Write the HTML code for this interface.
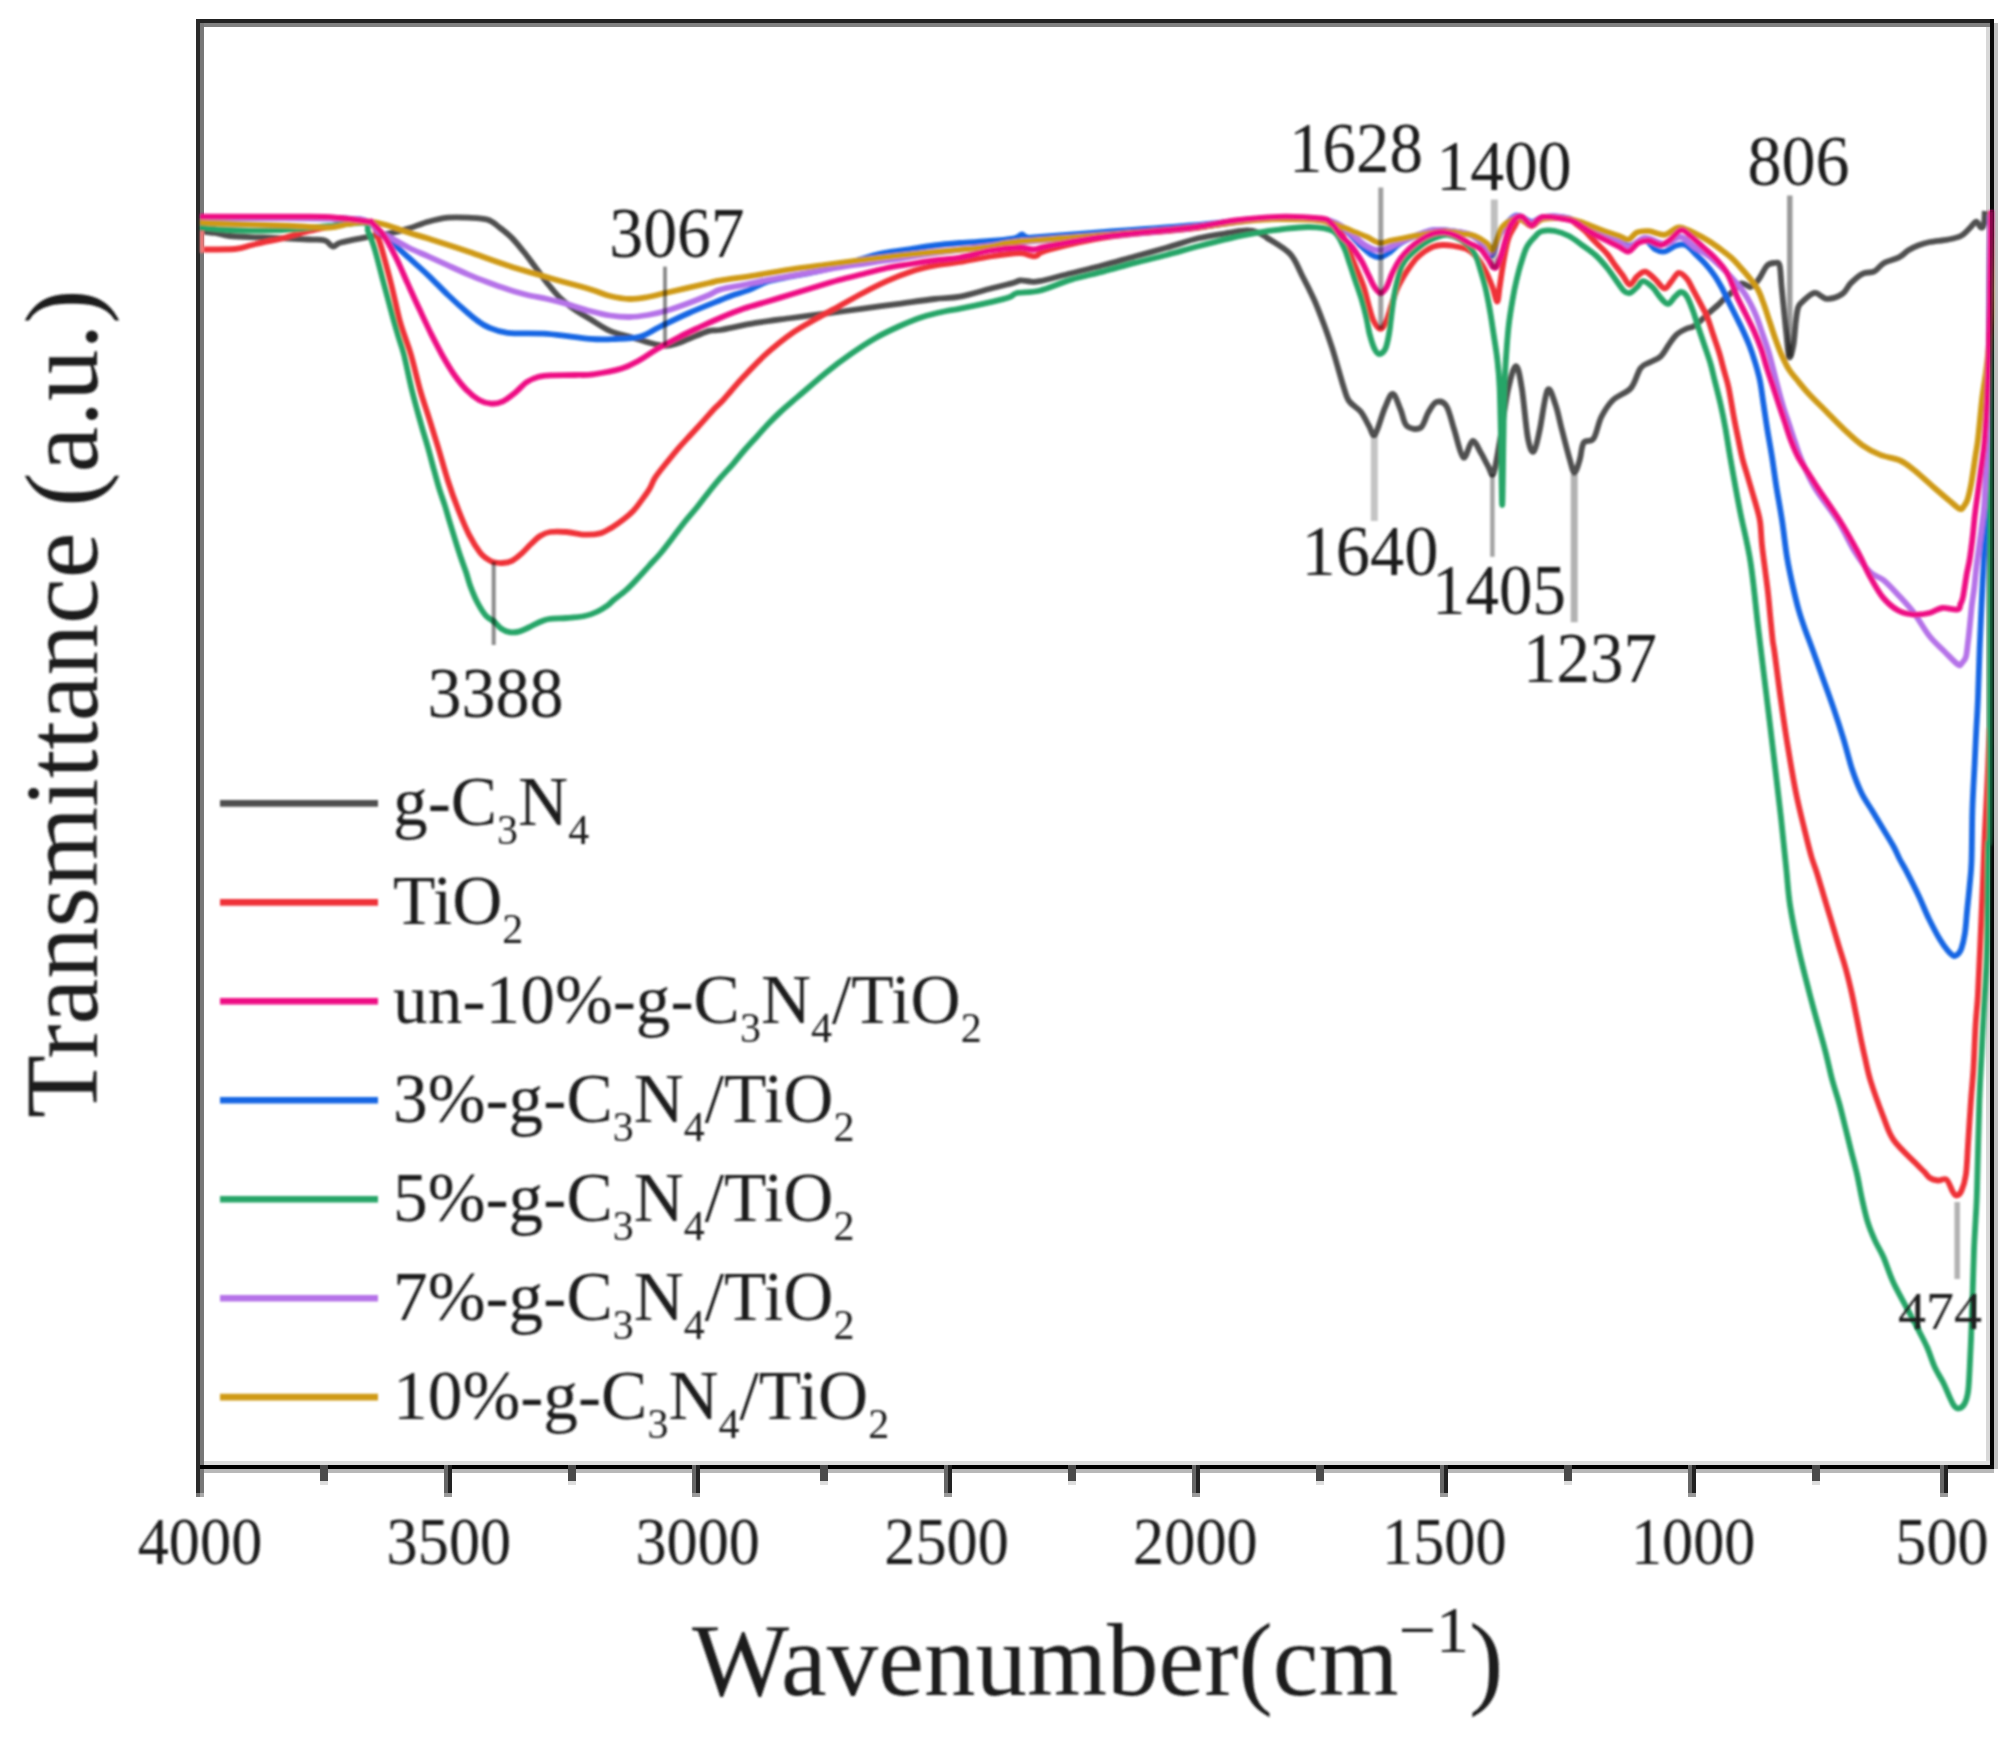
<!DOCTYPE html>
<html lang="en"><head><meta charset="utf-8"><title>FTIR spectra</title>
<style>html,body{margin:0;padding:0;background:#fff}body{width:2015px;height:1738px;overflow:hidden}svg{display:block}text{font-family:"Liberation Serif","Times New Roman",serif;fill:#1a1a1a}</style></head><body>
<svg width="2015" height="1738" viewBox="0 0 2015 1738">
<rect width="2015" height="1738" fill="#fff"/>
<defs><filter id="soft" x="0" y="0" width="2015" height="1738" filterUnits="userSpaceOnUse"><feGaussianBlur stdDeviation="1.1"/></filter></defs>
<g shape-rendering="crispEdges">
<rect x="196" y="19" width="1798" height="4" fill="#222"/>
<rect x="200" y="23" width="1790" height="4" fill="#808080"/>
<rect x="196" y="19" width="4" height="1474" fill="#2a2a2a"/>
<rect x="200" y="23" width="4" height="1470" fill="#777"/>
<rect x="196" y="1493" width="4" height="4" fill="#777"/>
<rect x="200" y="1493" width="4" height="4" fill="#aaa"/>
<rect x="204" y="1461" width="1786" height="4" fill="#dedede"/>
<rect x="200" y="1465" width="1794" height="4" fill="#000"/>
<rect x="204" y="1469" width="1790" height="4" fill="#b8b8b8"/>
<rect x="1986" y="27" width="4" height="1434" fill="#d8d8d8"/>
<rect x="1990" y="19" width="4" height="1450" fill="#080808"/>
<rect x="1994" y="23" width="4" height="1446" fill="#c0c0c0"/>
<rect x="320" y="1465" width="8" height="16" fill="#4a4a4a"/>
<rect x="320" y="1481" width="8" height="4" fill="#ddd"/>
<rect x="444" y="1465" width="4" height="28" fill="#666"/>
<rect x="448" y="1465" width="4" height="28" fill="#222"/>
<rect x="444" y="1493" width="8" height="4" fill="#999"/>
<rect x="568" y="1465" width="8" height="16" fill="#4a4a4a"/>
<rect x="568" y="1481" width="8" height="4" fill="#ddd"/>
<rect x="692" y="1465" width="4" height="28" fill="#666"/>
<rect x="696" y="1465" width="4" height="28" fill="#222"/>
<rect x="692" y="1493" width="8" height="4" fill="#999"/>
<rect x="820" y="1465" width="8" height="16" fill="#4a4a4a"/>
<rect x="820" y="1481" width="8" height="4" fill="#ddd"/>
<rect x="944" y="1465" width="4" height="28" fill="#666"/>
<rect x="948" y="1465" width="4" height="28" fill="#222"/>
<rect x="944" y="1493" width="8" height="4" fill="#999"/>
<rect x="1068" y="1465" width="8" height="16" fill="#4a4a4a"/>
<rect x="1068" y="1481" width="8" height="4" fill="#ddd"/>
<rect x="1192" y="1465" width="4" height="28" fill="#666"/>
<rect x="1196" y="1465" width="4" height="28" fill="#222"/>
<rect x="1192" y="1493" width="8" height="4" fill="#999"/>
<rect x="1316" y="1465" width="8" height="16" fill="#4a4a4a"/>
<rect x="1316" y="1481" width="8" height="4" fill="#ddd"/>
<rect x="1440" y="1465" width="4" height="28" fill="#666"/>
<rect x="1444" y="1465" width="4" height="28" fill="#222"/>
<rect x="1440" y="1493" width="8" height="4" fill="#999"/>
<rect x="1564" y="1465" width="8" height="16" fill="#4a4a4a"/>
<rect x="1564" y="1481" width="8" height="4" fill="#ddd"/>
<rect x="1688" y="1465" width="4" height="28" fill="#666"/>
<rect x="1692" y="1465" width="4" height="28" fill="#222"/>
<rect x="1688" y="1493" width="8" height="4" fill="#999"/>
<rect x="1812" y="1465" width="8" height="16" fill="#4a4a4a"/>
<rect x="1812" y="1481" width="8" height="4" fill="#ddd"/>
<rect x="1940" y="1465" width="4" height="28" fill="#666"/>
<rect x="1944" y="1465" width="4" height="28" fill="#222"/>
<rect x="1940" y="1493" width="8" height="4" fill="#999"/>
</g>
<g filter="url(#soft)">
<clipPath id="plot"><rect x="200" y="0" width="1794" height="1738"/></clipPath>
<g fill="none" stroke-width="5.8" stroke-linejoin="round" stroke-linecap="butt" clip-path="url(#plot)">
<path d="M198.0 231.0C200.8 231.3 209.7 232.2 215.0 233.0C220.3 233.8 223.0 235.3 230.0 236.0C237.0 236.7 250.4 237.0 257.0 237.3C263.6 237.6 260.7 237.2 269.4 237.6C278.1 238.0 299.7 239.0 309.0 239.5C318.3 240.0 321.0 239.3 325.0 240.5C329.0 241.7 330.2 246.2 332.9 246.5C335.5 246.8 335.6 244.0 340.9 242.5C346.2 241.0 356.8 239.1 364.7 237.6C372.6 236.1 381.2 235.1 388.5 233.6C395.8 232.1 401.8 230.6 408.4 228.6C415.0 226.6 421.6 223.5 428.2 221.7C434.8 219.9 441.4 218.4 448.0 217.7C454.6 217.0 461.3 217.4 467.9 217.7C474.5 218.0 482.5 218.0 487.8 219.7C493.1 221.3 495.7 224.6 499.7 227.6C503.7 230.6 507.6 233.6 511.6 237.6C515.6 241.6 519.5 246.6 523.5 251.5C527.5 256.4 531.4 262.0 535.4 267.3C539.4 272.6 543.3 278.2 547.3 283.2C551.3 288.1 555.2 293.0 559.2 297.0C563.2 301.0 567.5 304.3 571.0 307.0C574.5 309.7 576.8 311.0 580.0 313.0C583.2 315.0 585.0 316.0 590.0 319.0C595.0 322.0 603.3 327.9 609.9 330.9C616.5 333.9 623.1 334.8 629.7 336.8C636.3 338.8 643.7 341.3 649.6 342.8C655.5 344.3 660.8 345.7 665.4 345.8C670.0 345.9 673.1 344.7 677.0 343.5C680.9 342.3 683.7 340.9 689.0 338.8C694.3 336.7 703.8 332.4 709.0 330.9C714.2 329.4 712.2 331.3 720.0 330.0C727.8 328.7 743.8 324.9 755.7 322.9C767.6 320.9 779.6 319.6 791.5 318.0C803.4 316.4 815.3 315.0 827.2 313.4C839.1 311.8 851.1 310.2 863.0 308.6C874.9 307.0 886.8 305.4 898.7 303.8C910.6 302.2 924.2 300.2 934.4 299.0C944.6 297.8 950.4 298.5 960.0 296.7C969.6 294.9 983.0 290.6 991.8 288.3C1000.6 286.0 1008.3 284.3 1013.0 283.0C1017.7 281.7 1017.2 280.8 1020.0 280.5C1022.8 280.2 1026.8 281.4 1030.0 281.5C1033.2 281.6 1032.5 282.6 1039.4 281.2C1046.3 279.8 1060.6 275.8 1071.2 273.2C1081.8 270.6 1092.4 268.1 1103.0 265.3C1113.6 262.5 1124.1 259.4 1134.7 256.5C1145.3 253.6 1155.8 250.8 1166.4 247.8C1177.0 244.8 1187.6 240.8 1198.2 238.3C1208.8 235.8 1221.9 234.0 1230.0 232.7C1238.1 231.4 1242.3 230.5 1247.0 230.5C1251.7 230.5 1254.8 231.3 1258.0 232.5C1261.2 233.7 1261.2 233.9 1266.5 237.5C1271.8 241.1 1284.1 247.5 1290.0 253.8C1295.9 260.1 1298.0 267.8 1302.0 275.3C1306.0 282.8 1310.2 291.1 1313.8 299.0C1317.4 306.9 1320.4 315.1 1323.4 323.0C1326.4 330.9 1329.1 338.8 1331.7 346.7C1334.3 354.6 1336.8 363.9 1338.8 370.6C1340.8 377.3 1341.9 381.9 1343.6 387.0C1345.3 392.1 1346.1 396.8 1349.0 401.0C1351.9 405.2 1357.7 407.8 1361.0 412.0C1364.3 416.2 1366.7 422.2 1369.0 426.0C1371.3 429.8 1372.4 437.5 1375.0 434.5C1377.6 431.5 1381.8 414.8 1384.8 408.0C1387.8 401.2 1390.1 393.7 1392.8 394.0C1395.5 394.3 1398.4 404.7 1400.7 410.0C1403.0 415.3 1403.4 422.8 1406.7 425.8C1410.0 428.8 1417.0 430.1 1420.6 427.8C1424.2 425.5 1425.8 416.3 1428.5 412.0C1431.2 407.7 1433.5 403.0 1436.5 402.0C1439.5 401.0 1443.4 401.3 1446.4 406.0C1449.4 410.7 1451.5 421.4 1454.3 430.0C1457.1 438.6 1460.4 455.7 1463.4 457.5C1466.4 459.3 1469.5 441.8 1472.4 441.0C1475.3 440.2 1478.4 448.8 1481.0 453.0C1483.6 457.2 1485.9 462.6 1488.0 466.0C1490.1 469.4 1491.4 477.8 1493.4 473.5C1495.4 469.2 1497.6 453.9 1500.0 440.0C1502.4 426.1 1505.3 402.3 1508.0 390.0C1510.7 377.7 1513.6 366.5 1515.9 366.2C1518.2 365.9 1519.8 376.1 1521.8 388.0C1523.8 399.9 1525.8 427.1 1527.8 437.7C1529.8 448.3 1531.7 452.9 1533.7 451.6C1535.7 450.3 1537.4 440.3 1539.7 430.0C1542.0 419.7 1544.9 394.2 1547.6 390.0C1550.2 385.8 1553.2 398.4 1555.6 405.0C1558.0 411.6 1559.5 420.7 1561.9 429.8C1564.3 438.9 1567.7 452.5 1569.8 459.6C1571.9 466.7 1572.8 472.5 1574.5 472.5C1576.2 472.5 1578.3 464.6 1579.8 459.6C1581.3 454.6 1581.4 446.2 1583.7 442.7C1586.0 439.2 1590.5 443.0 1593.5 438.7C1596.5 434.4 1598.2 423.2 1601.4 416.8C1604.7 410.4 1608.1 404.8 1613.0 400.0C1617.9 395.2 1626.4 393.3 1631.0 388.0C1635.6 382.7 1637.3 372.5 1640.5 368.2C1643.7 363.9 1646.6 364.2 1650.0 362.2C1653.4 360.2 1657.6 359.3 1660.8 356.3C1664.0 353.3 1666.4 348.0 1669.0 344.4C1671.6 340.8 1673.5 337.4 1676.3 334.8C1679.1 332.2 1682.6 330.6 1685.8 329.0C1689.0 327.4 1691.5 327.9 1695.3 325.3C1699.1 322.7 1704.6 316.8 1708.4 313.4C1712.2 310.0 1715.4 307.4 1718.0 305.0C1720.6 302.6 1722.0 300.8 1724.0 299.0C1726.0 297.2 1727.2 296.6 1730.0 294.0C1732.8 291.4 1737.7 284.7 1741.0 283.5C1744.3 282.3 1747.7 286.9 1750.0 287.0C1752.3 287.1 1753.3 285.6 1755.0 284.0C1756.7 282.4 1758.0 280.5 1760.0 277.4C1762.0 274.3 1764.8 267.9 1767.2 265.5C1769.6 263.1 1772.2 263.1 1774.3 263.0C1776.3 262.9 1778.3 261.2 1779.5 265.0C1780.7 268.8 1780.8 278.3 1781.5 285.7C1782.2 293.1 1783.1 301.7 1783.9 309.6C1784.7 317.6 1785.4 325.5 1786.3 333.4C1787.2 341.3 1788.0 355.2 1789.2 357.2C1790.4 359.2 1792.3 351.2 1793.4 345.3C1794.5 339.4 1795.0 327.9 1795.8 321.5C1796.6 315.1 1797.0 310.6 1798.2 307.2C1799.4 303.8 1800.2 303.6 1803.0 301.2C1805.8 298.8 1810.8 293.3 1814.8 292.9C1818.8 292.5 1822.2 298.6 1826.8 298.8C1831.4 299.0 1838.2 296.6 1842.2 294.0C1846.2 291.4 1847.2 286.8 1850.6 283.4C1854.0 280.0 1858.5 275.8 1862.5 273.8C1866.5 271.8 1870.8 273.2 1874.4 271.4C1878.0 269.6 1879.9 265.3 1884.0 263.0C1888.1 260.7 1894.9 259.5 1899.0 257.4C1903.1 255.3 1905.2 252.3 1908.4 250.3C1911.6 248.3 1914.4 246.9 1918.0 245.5C1921.6 244.1 1924.8 243.0 1929.8 242.0C1934.8 241.0 1942.5 240.6 1947.7 239.6C1952.9 238.6 1957.0 238.0 1960.8 236.0C1964.6 234.0 1967.7 230.0 1970.3 227.6C1972.9 225.2 1974.5 221.7 1976.3 221.7C1978.1 221.7 1979.7 227.2 1981.0 227.6C1982.3 228.0 1983.4 226.8 1984.0 224.0C1984.6 221.2 1984.7 213.2 1984.8 211.0" stroke="#4f4f4f"/>
<path d="M198.0 249.5C204.2 249.4 226.3 249.7 235.0 249.0C243.7 248.3 245.0 246.7 250.0 245.5C255.0 244.3 260.0 243.1 265.0 242.0C270.0 240.9 275.5 240.1 280.0 239.0C284.5 237.9 287.2 236.8 292.0 235.5C296.8 234.2 302.8 232.5 309.0 231.0C315.2 229.5 322.4 228.0 329.0 226.6C335.6 225.2 342.2 223.3 348.8 222.7C355.4 222.0 364.5 222.1 368.7 222.7C372.9 223.2 372.5 223.8 374.0 226.0C375.5 228.2 376.3 232.4 377.5 236.0C378.7 239.6 379.1 239.7 381.4 247.6C383.6 255.5 388.0 271.5 391.0 283.4C394.0 295.3 397.0 310.1 399.3 319.0C401.6 327.9 403.1 331.0 405.0 337.0C406.9 343.0 408.4 345.9 411.0 354.8C413.6 363.7 417.3 380.1 420.3 390.6C423.3 401.1 426.1 408.6 429.0 418.0C431.9 427.4 434.8 436.5 438.0 447.0C441.2 457.5 444.6 470.4 448.0 481.0C451.4 491.6 455.2 501.9 458.7 510.8C462.2 519.7 465.4 527.6 469.0 534.6C472.6 541.6 477.0 548.5 480.0 552.5C483.0 556.5 484.9 557.2 487.0 558.8C489.1 560.4 490.3 561.3 492.9 562.0C495.5 562.7 499.2 563.2 502.4 563.0C505.6 562.8 508.8 562.4 512.0 560.8C515.2 559.2 518.3 556.4 521.5 553.6C524.7 550.8 527.8 547.0 531.0 544.0C534.2 541.0 537.3 537.8 540.5 535.8C543.7 533.8 545.6 532.6 550.0 532.0C554.4 531.4 560.9 531.6 566.7 532.0C572.5 532.4 579.1 534.4 584.6 534.6C590.1 534.8 595.4 534.6 600.0 533.4C604.6 532.2 608.0 529.8 612.0 527.4C616.0 525.0 620.4 521.8 624.0 519.0C627.6 516.2 630.7 513.5 633.4 510.7C636.1 507.9 637.4 506.0 640.0 502.4C642.6 498.8 646.8 493.5 649.3 489.3C651.8 485.1 652.3 481.9 655.3 477.4C658.3 472.8 663.2 467.0 667.2 462.0C671.2 457.0 675.0 452.2 679.0 447.6C683.0 443.0 687.0 438.9 691.0 434.5C695.0 430.1 699.0 425.8 703.0 421.4C707.0 417.0 711.4 411.9 714.8 408.3C718.2 404.7 720.5 402.9 723.2 400.0C725.9 397.1 727.6 394.9 731.0 391.0C734.4 387.1 737.7 382.9 743.8 376.5C749.9 370.1 759.6 359.8 767.6 352.7C775.6 345.6 783.5 339.2 791.5 333.6C799.5 328.0 807.4 323.9 815.3 319.3C823.2 314.7 831.0 310.6 839.0 306.2C847.0 301.8 855.0 297.2 863.0 293.0C871.0 288.8 878.8 284.8 886.7 281.2C894.6 277.6 902.7 274.3 910.6 271.7C918.5 269.1 926.2 267.3 934.4 265.7C942.6 264.1 950.7 263.5 960.0 262.0C969.3 260.5 980.5 258.0 990.3 256.5C1000.1 255.0 1012.4 253.2 1019.0 253.0C1025.6 252.8 1027.2 255.0 1030.0 255.5C1032.8 256.0 1033.0 256.9 1036.0 256.0C1039.0 255.1 1036.4 253.1 1048.0 250.0C1059.6 246.9 1081.4 241.0 1105.4 237.4C1129.4 233.8 1170.2 231.3 1191.8 228.7C1213.4 226.0 1220.6 223.3 1235.0 221.5C1249.4 219.7 1263.7 218.1 1278.0 217.8C1292.3 217.5 1310.5 217.0 1321.0 219.5C1331.5 222.0 1336.6 228.5 1341.0 233.0C1345.4 237.5 1344.6 240.6 1347.2 246.7C1349.8 252.8 1353.9 262.6 1356.7 269.3C1359.5 276.1 1361.8 281.2 1363.8 287.2C1365.8 293.1 1367.0 299.4 1368.6 305.0C1370.2 310.6 1371.4 316.5 1373.4 320.5C1375.4 324.5 1378.3 328.9 1380.5 328.9C1382.7 328.9 1384.7 324.5 1386.5 320.5C1388.3 316.5 1389.8 310.2 1391.5 305.0C1393.2 299.8 1394.9 293.9 1397.0 289.0C1399.1 284.1 1402.3 278.8 1404.3 275.3C1406.3 271.8 1407.0 270.8 1409.0 268.0C1411.0 265.2 1413.6 261.4 1416.2 258.6C1418.8 255.9 1421.8 253.5 1424.6 251.5C1427.4 249.5 1430.0 247.8 1433.0 246.7C1436.0 245.6 1439.0 245.1 1442.5 245.0C1446.0 244.9 1450.0 245.3 1454.0 246.0C1458.0 246.7 1462.7 247.3 1466.3 249.0C1469.9 250.7 1472.6 252.6 1475.8 256.2C1479.0 259.8 1482.5 265.3 1485.3 270.5C1488.1 275.7 1490.5 282.0 1492.5 287.2C1494.5 292.4 1496.0 301.5 1497.2 301.5C1498.4 301.5 1498.6 293.6 1499.6 287.2C1500.6 280.8 1501.8 271.3 1503.2 263.4C1504.6 255.5 1506.2 245.6 1508.0 239.6C1509.8 233.6 1511.9 231.0 1513.9 227.6C1515.9 224.2 1517.0 219.3 1520.0 219.0C1523.0 218.7 1527.8 226.2 1531.7 226.0C1535.6 225.8 1537.6 219.2 1543.6 218.0C1549.6 216.8 1561.9 217.9 1567.5 219.0C1573.1 220.1 1574.1 222.5 1577.0 224.5C1579.9 226.5 1582.7 228.8 1585.0 231.0C1587.3 233.2 1588.9 235.3 1591.0 237.5C1593.1 239.7 1595.0 241.6 1597.7 244.3C1600.4 247.0 1604.2 250.2 1607.2 253.8C1610.2 257.4 1612.9 262.2 1615.5 265.8C1618.1 269.4 1620.3 272.1 1622.7 275.3C1625.1 278.5 1627.4 284.6 1629.8 284.8C1632.2 285.0 1634.4 278.7 1637.0 276.5C1639.6 274.3 1642.3 271.3 1645.3 271.7C1648.3 272.1 1651.6 276.1 1654.8 278.9C1658.0 281.7 1661.6 288.0 1664.4 288.4C1667.2 288.8 1669.1 283.8 1671.5 281.2C1673.9 278.6 1676.1 273.3 1678.7 272.9C1681.3 272.5 1684.6 276.1 1687.0 278.9C1689.4 281.7 1690.8 285.6 1693.0 289.6C1695.2 293.6 1697.6 298.1 1700.0 302.7C1702.4 307.3 1705.0 311.6 1707.2 317.0C1709.4 322.4 1711.2 328.9 1713.2 334.8C1715.2 340.8 1717.4 346.7 1719.2 352.7C1721.0 358.7 1722.4 364.7 1724.0 370.6C1725.6 376.5 1727.1 380.3 1728.7 388.0C1730.3 395.7 1732.2 408.0 1733.8 416.8C1735.4 425.6 1737.1 433.6 1738.6 440.6C1740.0 447.6 1741.0 453.1 1742.5 459.0C1744.0 464.9 1745.8 470.3 1747.5 476.0C1749.2 481.7 1750.9 487.6 1752.5 493.0C1754.1 498.4 1755.7 503.6 1757.0 508.5C1758.3 513.4 1759.4 516.4 1760.2 522.5C1761.0 528.6 1761.2 537.5 1762.0 545.3C1762.8 553.0 1764.0 561.1 1765.0 569.0C1766.0 576.9 1767.1 584.9 1768.0 592.9C1768.9 600.9 1769.5 608.8 1770.3 616.7C1771.1 624.7 1772.0 634.7 1772.7 640.6C1773.4 646.5 1773.2 642.5 1774.5 652.0C1775.8 661.5 1778.3 682.1 1780.5 697.6C1782.7 713.1 1785.0 729.4 1787.6 745.3C1790.2 761.2 1793.2 779.1 1796.0 793.0C1798.8 806.9 1801.7 818.0 1804.3 828.7C1806.9 839.4 1809.3 849.5 1811.5 857.0C1813.7 864.5 1815.1 867.0 1817.2 873.8C1819.3 880.6 1821.9 889.6 1824.3 897.6C1826.7 905.6 1829.1 913.5 1831.5 921.5C1833.9 929.5 1836.2 937.4 1838.6 945.3C1841.0 953.2 1843.6 961.0 1845.8 969.0C1848.0 977.0 1849.9 985.0 1851.7 993.0C1853.5 1001.0 1854.9 1008.8 1856.5 1016.7C1858.1 1024.6 1859.8 1033.9 1861.2 1040.6C1862.6 1047.3 1863.2 1050.3 1864.8 1057.0C1866.4 1063.7 1867.5 1071.0 1870.6 1081.0C1873.7 1091.0 1879.6 1107.2 1883.4 1117.0C1887.2 1126.8 1888.3 1132.4 1893.6 1140.0C1898.9 1147.6 1909.9 1157.3 1915.0 1162.6C1920.1 1167.9 1921.5 1169.0 1924.0 1171.6C1926.5 1174.2 1927.7 1176.5 1930.0 1178.0C1932.3 1179.5 1935.3 1180.2 1938.0 1180.5C1940.7 1180.8 1944.0 1177.8 1946.4 1179.5C1948.8 1181.2 1950.8 1188.3 1952.4 1191.0C1954.0 1193.7 1954.7 1195.5 1956.2 1195.5C1957.7 1195.5 1959.8 1194.5 1961.4 1191.0C1963.0 1187.5 1964.8 1182.3 1965.9 1174.6C1967.0 1166.9 1967.2 1157.1 1968.0 1144.6C1968.8 1132.1 1970.1 1112.2 1971.0 1099.7C1971.9 1087.2 1972.6 1082.3 1973.4 1069.8C1974.2 1057.3 1974.8 1037.4 1975.6 1024.9C1976.3 1012.4 1977.2 1007.5 1977.9 995.0C1978.6 982.5 1979.2 969.2 1980.0 950.0C1980.8 930.8 1982.2 900.0 1983.0 880.0C1983.8 860.0 1984.2 846.7 1985.0 830.0C1985.8 813.3 1986.8 796.7 1987.5 780.0C1988.2 763.3 1989.1 743.3 1989.5 730.0C1989.9 716.7 1989.9 785.8 1990.0 700.0C1990.1 614.2 1990.0 295.8 1990.0 215.0" stroke="#ef3338"/>
<path d="M198.0 217.5C221.7 217.7 311.6 217.8 340.0 218.5C368.4 219.2 362.3 219.8 368.7 222.0C375.1 224.2 375.3 228.7 378.6 231.6C381.9 234.5 383.5 235.2 388.5 239.5C393.5 243.8 401.8 251.4 408.4 257.4C415.0 263.4 421.6 269.0 428.2 275.3C434.8 281.6 441.4 288.7 448.0 295.0C454.6 301.3 462.9 308.7 467.9 313.0C472.9 317.3 474.5 318.7 477.8 321.0C481.1 323.3 482.8 325.0 487.8 327.0C492.8 329.0 497.7 331.7 507.6 332.8C517.5 333.9 533.6 332.8 547.3 333.8C561.0 334.8 578.7 337.9 590.0 338.8C601.3 339.7 606.7 339.3 615.0 339.0C623.3 338.7 632.2 338.8 639.6 336.8C647.0 334.8 651.3 331.0 659.5 327.0C667.7 323.0 678.9 317.4 689.0 313.0C699.1 308.6 712.8 303.2 720.0 300.3C727.2 297.4 727.0 297.3 732.0 295.5C737.0 293.7 743.9 291.9 749.8 289.6C755.7 287.3 760.6 283.7 767.6 281.5C774.6 279.3 783.5 278.1 791.5 276.5C799.5 274.9 807.2 273.8 815.3 272.0C823.4 270.2 832.5 268.1 840.0 266.0C847.5 263.9 854.2 261.3 860.0 259.5C865.8 257.7 870.5 256.1 875.0 255.0C879.5 253.8 880.8 253.6 886.7 252.6C892.6 251.6 902.7 250.2 910.6 249.0C918.5 247.8 926.2 246.5 934.4 245.5C942.6 244.5 950.7 243.8 960.0 243.0C969.3 242.2 981.2 241.8 990.0 241.0C998.8 240.2 1008.3 239.2 1013.0 238.5C1017.7 237.8 1016.5 237.7 1018.0 237.0C1019.5 236.3 1020.7 234.5 1022.0 234.5C1023.3 234.5 1024.1 236.5 1026.0 237.0C1027.9 237.5 1020.3 238.3 1033.5 237.5C1046.7 236.7 1078.6 234.0 1105.0 232.0C1131.4 230.0 1167.9 227.6 1192.0 225.5C1216.1 223.4 1235.1 220.8 1249.4 219.5C1263.7 218.2 1266.1 218.0 1278.0 218.0C1289.9 218.0 1310.5 218.2 1321.0 219.5C1331.5 220.8 1334.5 221.8 1341.0 226.0C1347.5 230.2 1354.8 240.2 1360.0 245.0C1365.2 249.8 1368.5 253.0 1372.0 255.0C1375.5 257.0 1378.0 257.5 1381.0 257.0C1384.0 256.5 1386.7 254.3 1390.0 252.0C1393.3 249.7 1395.6 246.0 1400.7 243.0C1405.8 240.0 1414.6 236.2 1420.6 234.0C1426.6 231.8 1428.6 230.0 1436.5 230.0C1444.4 230.0 1460.1 231.5 1468.0 234.0C1475.9 236.5 1480.0 241.5 1484.0 245.0C1488.0 248.5 1489.3 256.8 1492.0 255.0C1494.7 253.2 1496.7 240.2 1500.0 234.0C1503.3 227.8 1508.7 221.0 1512.0 218.0C1515.3 215.0 1516.7 215.3 1520.0 216.0C1523.3 216.7 1527.8 221.8 1531.7 222.0C1535.6 222.2 1537.6 217.7 1543.6 217.0C1549.6 216.3 1560.3 216.2 1567.5 218.0C1574.7 219.8 1580.4 225.0 1587.0 228.0C1593.6 231.0 1602.3 234.3 1607.0 236.0C1611.7 237.7 1611.3 236.3 1615.0 238.0C1618.7 239.7 1624.0 245.7 1629.0 246.0C1634.0 246.3 1640.5 239.5 1644.8 240.0C1649.1 240.5 1651.5 247.1 1654.8 249.0C1658.1 250.9 1660.8 252.1 1664.4 251.5C1668.0 250.9 1672.7 246.6 1676.3 245.5C1679.9 244.4 1682.6 243.6 1685.8 245.0C1689.0 246.4 1692.1 250.7 1695.3 253.8C1698.5 256.9 1701.7 259.8 1704.9 263.4C1708.1 267.0 1711.6 271.3 1714.4 275.3C1717.2 279.3 1719.1 282.8 1721.5 287.2C1723.9 291.6 1726.3 297.2 1728.7 302.0C1731.1 306.8 1733.5 311.5 1735.8 316.0C1738.0 320.5 1740.0 324.1 1742.2 329.0C1744.5 333.9 1747.1 339.6 1749.3 345.3C1751.5 351.0 1753.5 357.1 1755.3 363.0C1757.1 368.9 1758.6 374.0 1760.0 381.0C1761.4 388.0 1762.4 396.9 1763.6 404.8C1764.8 412.8 1765.8 420.0 1767.2 428.7C1768.6 437.4 1770.5 447.5 1772.0 457.0C1773.5 466.5 1774.5 474.9 1776.2 485.7C1777.9 496.4 1780.4 509.6 1782.2 521.5C1784.0 533.4 1785.2 546.3 1787.0 557.2C1788.8 568.1 1791.0 578.1 1793.0 587.0C1795.0 595.9 1796.9 603.8 1798.9 610.8C1800.9 617.8 1802.5 622.2 1804.8 628.7C1807.1 635.2 1809.6 641.5 1812.7 650.0C1815.8 658.5 1819.9 669.9 1823.4 679.8C1827.0 689.7 1830.6 699.7 1834.0 709.6C1837.4 719.5 1840.6 729.4 1843.6 739.3C1846.6 749.2 1849.0 760.0 1852.0 769.0C1855.0 778.0 1858.1 786.0 1861.5 793.0C1864.9 800.0 1868.6 804.8 1872.2 810.8C1875.8 816.8 1879.4 822.8 1883.0 828.7C1886.6 834.7 1890.8 841.5 1893.6 846.5C1896.4 851.5 1897.4 854.9 1899.6 859.0C1901.8 863.1 1903.4 865.4 1906.5 871.4C1909.6 877.4 1914.7 887.4 1918.4 895.3C1922.2 903.2 1925.4 911.7 1929.0 919.0C1932.6 926.3 1936.6 933.9 1939.8 939.3C1943.0 944.7 1945.8 948.4 1948.2 951.2C1950.6 954.0 1952.4 955.5 1954.0 956.0C1955.6 956.5 1956.8 955.2 1958.0 954.0C1959.2 952.8 1960.1 952.3 1961.3 948.9C1962.5 945.5 1963.9 939.9 1964.9 933.4C1965.9 926.9 1966.4 917.5 1967.2 909.6C1968.0 901.7 1968.9 893.6 1969.6 885.7C1970.3 877.8 1971.0 874.6 1971.5 862.0C1972.0 849.4 1971.9 826.2 1972.4 810.0C1972.9 793.8 1973.9 778.3 1974.6 765.0C1975.2 751.7 1975.7 741.3 1976.3 730.0C1976.9 718.7 1977.5 710.4 1978.0 697.0C1978.5 683.6 1978.9 667.5 1979.6 649.6C1980.3 631.7 1981.5 607.2 1982.3 589.7C1983.1 572.2 1983.8 559.8 1984.6 544.8C1985.4 529.8 1986.2 524.1 1986.9 500.0C1987.6 475.9 1988.1 433.3 1988.5 400.0C1988.9 366.7 1989.2 330.8 1989.5 300.0C1989.8 269.2 1989.9 229.2 1990.0 215.0" stroke="#1766e3"/>
<path d="M198.0 227.0C202.0 227.4 213.4 228.9 222.0 229.5C230.6 230.1 238.4 230.6 249.6 230.6C260.8 230.6 275.8 230.4 289.0 229.6C302.2 228.8 316.4 227.1 329.0 226.0C341.6 224.9 358.2 222.2 364.7 223.0C371.2 223.8 366.4 226.9 368.0 231.0C369.6 235.1 371.7 238.9 374.3 247.6C376.9 256.3 380.6 271.5 383.8 283.4C387.0 295.3 390.9 310.1 393.3 319.0C395.8 327.9 396.7 331.0 398.5 337.0C400.3 343.0 401.8 345.9 404.0 354.8C406.2 363.7 409.2 379.1 412.0 390.6C414.8 402.1 418.4 414.6 421.0 424.0C423.6 433.4 425.6 439.3 427.8 447.0C430.0 454.7 432.1 463.2 434.0 470.0C435.9 476.8 437.2 482.0 439.0 488.0C440.8 494.0 443.2 500.2 445.0 506.0C446.8 511.8 448.2 517.2 450.0 523.0C451.8 528.8 453.7 535.2 455.5 541.0C457.3 546.8 459.2 552.8 461.0 558.0C462.8 563.2 464.4 567.3 466.0 572.0C467.6 576.7 468.4 580.9 470.3 586.0C472.2 591.1 474.8 597.6 477.4 602.5C480.0 607.4 483.0 612.4 485.8 615.6C488.6 618.8 491.4 619.3 494.0 621.5C496.6 623.7 498.6 626.9 501.2 628.7C503.8 630.5 506.6 631.7 509.6 632.2C512.6 632.7 515.8 632.4 519.0 631.6C522.2 630.8 525.4 629.0 528.6 627.5C531.8 626.0 534.8 624.1 538.2 622.7C541.6 621.3 544.1 619.8 548.9 619.0C553.6 618.2 560.8 618.5 566.7 618.0C572.7 617.5 579.6 617.0 584.6 616.0C589.6 615.0 592.5 613.9 596.5 612.0C600.5 610.1 605.5 606.8 608.4 604.8C611.2 602.8 610.8 602.4 613.6 600.0C616.5 597.6 621.5 594.1 625.5 590.6C629.5 587.1 633.4 582.9 637.4 578.7C641.4 574.5 645.3 570.0 649.3 565.6C653.3 561.2 657.2 557.3 661.2 552.5C665.2 547.7 669.2 542.2 673.2 537.0C677.2 531.8 681.0 526.5 685.0 521.5C689.0 516.5 693.0 512.2 697.0 507.2C701.0 502.2 705.0 496.7 709.0 491.7C713.0 486.7 716.8 482.0 720.8 477.4C724.8 472.8 728.7 468.9 732.7 464.3C736.7 459.7 740.6 454.6 744.6 450.0C748.6 445.4 752.5 441.4 756.5 437.0C760.5 432.6 764.4 428.0 768.4 423.8C772.4 419.6 776.3 415.7 780.3 412.0C784.3 408.3 788.4 404.8 792.3 401.5C796.1 398.2 797.6 397.0 803.4 392.0C809.2 387.0 819.3 378.1 827.2 371.7C835.1 365.3 843.1 359.4 851.0 353.9C858.9 348.3 866.8 343.0 874.8 338.4C882.8 333.8 890.8 330.1 898.7 326.5C906.7 322.9 914.6 319.6 922.5 317.0C930.4 314.4 940.0 312.4 946.3 311.0C952.5 309.6 952.4 310.1 960.0 308.6C967.6 307.1 983.5 303.7 991.8 301.8C1000.1 299.9 1005.8 298.5 1010.0 297.0C1014.2 295.5 1012.1 294.1 1017.0 293.0C1021.9 291.9 1030.4 292.9 1039.4 290.7C1048.4 288.5 1060.6 282.8 1071.2 279.6C1081.8 276.4 1092.4 274.4 1103.0 271.6C1113.6 268.8 1124.1 265.7 1134.7 262.9C1145.3 260.1 1155.8 257.8 1166.4 255.0C1177.0 252.2 1187.6 249.0 1198.2 246.2C1208.8 243.4 1219.4 240.7 1230.0 238.3C1240.6 235.9 1253.4 233.5 1261.7 232.0C1270.0 230.5 1272.1 230.3 1280.0 229.5C1287.9 228.7 1300.2 226.8 1309.0 227.0C1317.8 227.2 1327.2 227.7 1333.0 231.0C1338.8 234.3 1340.8 241.3 1343.6 246.7C1346.4 252.1 1347.6 257.6 1349.6 263.4C1351.6 269.1 1353.5 275.3 1355.5 281.2C1357.5 287.1 1359.7 293.0 1361.5 299.0C1363.3 305.0 1364.8 311.0 1366.2 317.0C1367.6 323.0 1368.4 329.5 1369.8 334.8C1371.2 340.1 1373.0 345.8 1374.6 349.0C1376.2 352.2 1377.5 354.0 1379.3 354.0C1381.1 354.0 1383.7 352.2 1385.3 349.0C1386.9 345.8 1387.9 340.1 1388.9 334.8C1389.9 329.5 1390.4 323.0 1391.2 317.0C1392.0 311.0 1392.6 305.0 1393.6 299.0C1394.6 293.0 1395.8 286.7 1397.2 281.2C1398.6 275.7 1400.0 270.0 1402.0 265.8C1404.0 261.6 1404.6 260.3 1409.0 256.2C1413.4 252.1 1421.9 244.5 1428.5 241.0C1435.1 237.5 1442.2 234.6 1448.4 235.0C1454.7 235.4 1461.4 240.0 1466.0 243.5C1470.6 247.0 1473.4 251.7 1475.8 256.2C1478.2 260.7 1479.0 265.3 1480.6 270.5C1482.2 275.7 1483.7 280.4 1485.3 287.2C1486.9 293.9 1488.6 303.1 1490.0 311.0C1491.4 318.9 1492.5 326.9 1493.7 334.8C1494.9 342.8 1496.2 350.0 1497.2 358.7C1498.2 367.4 1499.0 373.4 1499.6 387.0C1500.2 400.6 1500.6 420.3 1501.0 440.0C1501.4 459.7 1501.8 505.0 1502.2 505.0C1502.6 505.0 1503.0 459.7 1503.4 440.0C1503.8 420.3 1503.8 402.6 1504.4 387.0C1505.0 371.4 1506.0 357.4 1506.8 346.7C1507.6 336.0 1508.0 330.9 1509.0 323.0C1510.0 315.1 1511.5 306.0 1512.7 299.0C1513.9 292.0 1514.9 287.1 1516.3 281.2C1517.7 275.3 1519.2 269.1 1521.0 263.4C1522.8 257.6 1524.5 251.3 1527.0 246.7C1529.5 242.1 1533.2 238.6 1535.7 236.0C1538.2 233.4 1538.5 232.0 1541.7 231.2C1544.9 230.4 1550.5 230.2 1555.0 231.0C1559.5 231.8 1564.7 233.8 1569.0 236.0C1573.3 238.2 1576.6 241.1 1581.0 244.3C1585.4 247.5 1590.9 251.1 1595.3 255.0C1599.7 258.9 1603.6 263.6 1607.2 268.0C1610.8 272.4 1613.9 277.4 1616.7 281.2C1619.5 285.0 1621.7 288.8 1623.9 290.8C1626.1 292.8 1627.6 293.6 1629.8 293.0C1632.0 292.4 1634.8 289.2 1637.0 287.2C1639.2 285.2 1640.4 281.2 1643.0 281.2C1645.6 281.2 1649.5 284.4 1652.5 287.2C1655.5 290.0 1658.2 295.2 1660.8 298.0C1663.4 300.8 1665.6 304.1 1668.0 303.9C1670.4 303.7 1672.8 298.7 1675.0 296.7C1677.2 294.7 1679.0 292.0 1681.0 292.0C1683.0 292.0 1685.0 293.5 1687.0 296.7C1689.0 299.9 1691.0 305.6 1693.0 311.0C1695.0 316.4 1696.9 323.1 1698.9 329.0C1700.9 334.9 1702.9 340.8 1704.9 346.7C1706.9 352.6 1709.2 358.9 1710.8 364.6C1712.4 370.3 1713.1 374.3 1714.8 381.0C1716.5 387.7 1718.9 396.9 1720.7 404.8C1722.5 412.8 1723.9 419.8 1725.5 428.7C1727.1 437.6 1727.9 444.3 1730.3 458.0C1732.7 471.7 1736.6 493.7 1740.0 511.0C1743.4 528.3 1747.5 542.8 1750.5 562.0C1753.5 581.2 1755.5 604.7 1758.0 626.0C1760.5 647.3 1763.2 668.7 1765.8 690.0C1768.4 711.3 1771.0 732.7 1773.5 754.0C1776.0 775.3 1778.9 798.6 1781.0 817.8C1783.1 837.0 1784.8 854.5 1786.3 869.0C1787.8 883.5 1787.9 891.3 1790.0 905.0C1792.1 918.7 1795.4 934.8 1799.0 951.0C1802.6 967.2 1807.5 985.5 1811.8 1002.0C1816.1 1018.5 1821.6 1037.0 1825.0 1050.0C1828.4 1063.0 1829.8 1070.9 1832.2 1079.8C1834.6 1088.7 1837.1 1095.7 1839.3 1103.6C1841.5 1111.5 1843.3 1119.5 1845.3 1127.4C1847.3 1135.3 1849.2 1143.3 1851.2 1151.2C1853.2 1159.1 1855.4 1167.0 1857.2 1175.0C1859.0 1183.0 1860.2 1191.0 1862.0 1198.9C1863.8 1206.9 1865.7 1215.8 1867.9 1222.7C1870.1 1229.7 1872.4 1234.9 1875.0 1240.6C1877.6 1246.3 1880.3 1249.9 1883.4 1257.0C1886.5 1264.1 1889.3 1273.8 1893.6 1283.0C1897.9 1292.2 1904.9 1304.3 1909.0 1312.0C1913.1 1319.7 1915.0 1323.4 1918.0 1329.2C1921.0 1335.0 1924.2 1340.8 1927.0 1347.0C1929.8 1353.2 1931.8 1360.6 1934.5 1366.6C1937.2 1372.6 1940.9 1378.0 1943.4 1383.0C1945.9 1388.0 1947.7 1392.8 1949.4 1396.6C1951.2 1400.4 1952.4 1403.6 1953.9 1405.6C1955.4 1407.6 1956.7 1408.8 1958.4 1408.5C1960.2 1408.2 1962.8 1406.8 1964.4 1404.0C1966.0 1401.2 1967.1 1397.7 1968.0 1392.0C1968.9 1386.3 1969.1 1378.3 1969.6 1369.6C1970.1 1360.9 1970.5 1352.2 1971.0 1339.7C1971.5 1327.2 1972.1 1309.8 1972.6 1294.8C1973.1 1279.8 1973.5 1262.4 1974.0 1249.9C1974.5 1237.4 1975.1 1230.0 1975.6 1220.0C1976.1 1210.0 1976.4 1210.0 1977.0 1190.0C1977.6 1170.0 1978.6 1122.2 1979.4 1099.7C1980.2 1077.2 1980.8 1069.8 1981.6 1054.8C1982.3 1039.8 1983.0 1027.4 1983.9 1009.9C1984.8 992.4 1986.2 976.6 1986.9 950.0C1987.6 923.4 1987.5 878.3 1988.0 850.0C1988.5 821.7 1989.6 885.8 1990.0 780.0C1990.4 674.2 1990.2 309.2 1990.3 215.0" stroke="#25a567"/>
<path d="M198.0 217.5C221.7 217.7 311.6 217.8 340.0 218.5C368.4 219.2 362.3 219.8 368.7 222.0C375.1 224.2 375.3 229.2 378.6 231.6C381.9 234.0 383.5 233.9 388.5 236.6C393.5 239.2 401.8 244.2 408.4 247.5C415.0 250.8 421.6 253.4 428.2 256.4C434.8 259.4 441.4 262.4 448.0 265.4C454.6 268.4 461.3 271.5 467.9 274.3C474.5 277.1 481.2 279.7 487.8 282.2C494.4 284.7 501.0 287.1 507.6 289.2C514.2 291.3 520.9 293.4 527.5 295.0C534.1 296.6 540.7 297.5 547.3 299.0C553.9 300.5 559.9 302.0 567.0 304.0C574.1 306.0 582.8 309.1 590.0 311.0C597.2 312.9 603.4 314.5 610.0 315.5C616.6 316.5 623.4 317.1 629.7 317.0C636.0 316.9 642.0 316.0 648.0 315.0C654.0 314.0 658.6 313.0 665.4 311.0C672.2 309.0 681.7 305.7 689.0 303.0C696.3 300.3 703.8 297.2 709.0 295.0C714.2 292.8 714.2 291.3 720.0 289.6C725.8 287.9 735.9 286.4 743.8 284.8C751.7 283.2 759.6 281.5 767.6 280.0C775.6 278.5 783.5 277.3 791.5 275.9C799.5 274.5 805.4 273.4 815.3 271.7C825.2 270.0 838.5 267.4 851.0 265.5C863.5 263.6 876.4 262.0 890.0 260.0C903.6 258.0 911.2 256.4 932.7 253.5C954.2 250.6 990.2 245.4 1019.0 242.5C1047.8 239.6 1076.6 238.4 1105.4 236.0C1134.2 233.6 1167.8 230.6 1191.8 228.0C1215.8 225.4 1235.0 222.1 1249.4 220.5C1263.8 218.9 1266.1 218.6 1278.0 218.5C1289.9 218.4 1310.5 218.8 1321.0 220.0C1331.5 221.2 1333.7 221.8 1341.0 226.0C1348.3 230.2 1358.3 241.0 1365.0 245.0C1371.7 249.0 1375.0 250.5 1381.0 250.0C1387.0 249.5 1394.1 244.7 1400.7 242.0C1407.3 239.3 1414.6 236.0 1420.6 234.0C1426.6 232.0 1428.6 230.0 1436.5 230.0C1444.4 230.0 1460.1 231.7 1468.0 234.0C1475.9 236.3 1480.0 240.8 1484.0 244.0C1488.0 247.2 1489.3 254.7 1492.0 253.0C1494.7 251.3 1496.7 239.7 1500.0 234.0C1503.3 228.3 1508.7 221.8 1512.0 219.0C1515.3 216.2 1516.7 216.3 1520.0 217.0C1523.3 217.7 1527.8 223.0 1531.7 223.0C1535.6 223.0 1537.6 217.8 1543.6 217.0C1549.6 216.2 1560.3 216.2 1567.5 218.0C1574.7 219.8 1580.4 224.8 1587.0 228.0C1593.6 231.2 1602.3 235.2 1607.0 237.0C1611.7 238.8 1611.3 237.3 1615.0 239.0C1618.7 240.7 1624.0 247.2 1629.0 247.0C1634.0 246.8 1638.9 238.5 1644.8 238.0C1650.7 237.5 1658.6 244.2 1664.6 244.0C1670.5 243.8 1675.5 236.5 1680.5 237.0C1685.5 237.5 1689.5 243.7 1694.4 247.0C1699.3 250.3 1703.8 251.9 1710.0 257.0C1716.2 262.1 1725.9 271.6 1731.5 277.4C1737.1 283.2 1740.2 287.3 1743.4 291.7C1746.6 296.1 1748.3 299.4 1750.5 303.6C1752.7 307.8 1754.5 311.7 1756.5 316.7C1758.5 321.7 1760.4 327.6 1762.4 333.4C1764.4 339.1 1766.6 345.3 1768.4 351.2C1770.2 357.1 1771.6 362.9 1773.2 369.0C1774.8 375.1 1776.4 381.8 1778.0 388.0C1779.6 394.2 1781.2 400.0 1783.0 406.0C1784.8 412.0 1787.0 418.0 1789.0 424.0C1791.0 430.0 1793.0 436.2 1795.0 442.0C1797.0 447.8 1797.7 451.3 1801.0 459.0C1804.3 466.7 1808.8 477.7 1815.0 488.0C1821.2 498.3 1831.3 510.3 1838.0 521.0C1844.7 531.7 1849.7 543.5 1855.0 552.0C1860.3 560.5 1865.3 567.3 1870.0 572.0C1874.7 576.7 1878.6 576.1 1883.4 580.0C1888.2 583.9 1893.6 590.0 1898.7 595.5C1903.8 601.0 1908.9 606.2 1914.0 613.0C1919.1 619.8 1924.3 629.5 1929.4 636.0C1934.5 642.5 1939.9 646.9 1944.7 651.7C1949.5 656.5 1955.1 662.7 1958.0 664.6C1960.9 666.5 1960.7 664.3 1962.0 663.0C1963.3 661.7 1964.9 660.5 1965.9 657.0C1966.9 653.5 1967.2 648.2 1968.0 642.0C1968.8 635.8 1969.8 625.8 1970.4 619.6C1971.1 613.4 1971.3 609.7 1971.9 604.7C1972.5 599.7 1973.2 596.0 1974.0 589.7C1974.8 583.4 1975.5 574.5 1976.4 567.0C1977.3 559.5 1978.4 552.3 1979.4 544.8C1980.4 537.3 1981.5 529.5 1982.4 522.0C1983.3 514.5 1983.8 513.7 1984.6 500.0C1985.4 486.3 1986.3 470.0 1987.0 440.0C1987.7 410.0 1988.5 357.5 1989.0 320.0C1989.5 282.5 1989.8 232.5 1990.0 215.0" stroke="#b572e8"/>
<path d="M198.0 222.0C201.7 222.2 204.8 222.9 220.0 223.5C235.2 224.1 270.8 225.0 289.0 225.7C307.2 226.4 319.2 227.9 329.0 227.6C338.8 227.3 341.4 225.0 348.0 224.0C354.6 223.0 361.9 221.4 368.7 221.7C375.4 222.0 381.9 223.9 388.5 225.7C395.1 227.5 401.8 230.4 408.4 232.6C415.0 234.8 418.3 235.4 428.2 238.6C438.1 241.8 454.7 247.0 467.9 251.5C481.1 256.0 494.4 261.1 507.6 265.4C520.8 269.7 533.6 273.3 547.3 277.3C561.0 281.3 579.5 286.1 590.0 289.2C600.5 292.3 603.4 294.4 610.0 296.0C616.6 297.6 623.4 298.8 629.7 299.0C636.0 299.2 642.0 298.0 648.0 297.0C654.0 296.0 655.2 295.3 665.4 293.0C675.6 290.7 699.9 285.1 709.0 283.0C718.1 280.9 712.2 281.9 720.0 280.6C727.8 279.3 743.8 277.2 755.7 275.3C767.6 273.4 779.6 271.1 791.5 269.3C803.4 267.5 815.3 266.1 827.2 264.5C839.1 262.9 851.1 261.3 863.0 259.8C874.9 258.3 886.8 256.9 898.7 255.6C910.6 254.3 924.2 253.0 934.4 252.0C944.6 251.0 950.7 250.6 960.0 249.7C969.3 248.8 980.2 247.9 990.0 246.5C999.8 245.1 999.8 243.4 1019.0 241.5C1038.2 239.6 1076.6 237.3 1105.4 235.0C1134.2 232.7 1167.8 230.1 1191.8 227.7C1215.8 225.3 1235.0 221.9 1249.4 220.5C1263.8 219.1 1266.1 219.0 1278.0 219.0C1289.9 219.0 1310.1 219.1 1321.0 220.5C1331.9 221.9 1337.8 225.6 1343.6 227.6C1349.3 229.6 1351.5 230.8 1355.5 232.4C1359.5 234.0 1363.4 235.4 1367.4 237.2C1371.4 239.0 1375.3 242.4 1379.3 243.0C1383.3 243.6 1386.2 241.7 1391.2 240.7C1396.2 239.7 1403.0 238.4 1409.0 237.2C1415.0 236.0 1421.0 234.5 1427.0 233.6C1433.0 232.7 1439.0 231.5 1444.9 231.5C1450.9 231.5 1457.8 232.8 1462.7 233.6C1467.7 234.3 1470.6 234.4 1474.6 236.0C1478.6 237.6 1483.5 240.6 1486.5 243.0C1489.5 245.4 1490.7 250.9 1492.5 250.3C1494.3 249.7 1495.6 243.4 1497.2 239.6C1498.8 235.8 1499.5 230.9 1502.0 227.6C1504.5 224.3 1509.0 221.4 1512.0 220.0C1515.0 218.6 1516.7 218.2 1520.0 219.0C1523.3 219.8 1527.8 225.0 1531.7 225.0C1535.6 225.0 1537.6 220.0 1543.6 219.0C1549.6 218.0 1560.9 218.3 1567.5 219.0C1574.1 219.7 1577.8 221.1 1583.4 222.9C1589.0 224.7 1595.3 227.8 1601.2 230.0C1607.1 232.2 1614.4 234.4 1619.0 236.0C1623.6 237.6 1625.6 240.2 1628.6 239.6C1631.6 239.0 1633.6 233.8 1637.0 232.4C1640.4 231.0 1644.3 230.8 1648.9 231.2C1653.5 231.6 1660.1 235.2 1664.4 234.8C1668.8 234.4 1672.2 230.0 1675.0 228.8C1677.8 227.6 1678.0 227.0 1681.0 227.6C1684.0 228.2 1688.4 230.2 1693.0 232.4C1697.6 234.6 1703.9 237.9 1708.4 240.7C1713.0 243.5 1716.3 246.0 1720.3 249.0C1724.3 252.0 1729.0 255.6 1732.3 258.6C1735.6 261.6 1737.4 264.1 1740.0 267.0C1742.6 269.9 1745.0 272.5 1748.0 276.2C1751.0 279.9 1755.1 284.7 1757.7 289.3C1760.3 293.9 1761.6 298.2 1763.6 303.6C1765.6 309.0 1767.6 315.6 1769.6 321.5C1771.6 327.4 1773.5 333.8 1775.5 339.3C1777.5 344.9 1779.3 349.9 1781.5 354.8C1783.7 359.8 1786.0 364.8 1788.6 369.0C1791.2 373.2 1793.6 375.6 1797.0 379.8C1800.4 384.0 1804.0 388.6 1809.0 394.0C1814.0 399.4 1820.9 406.0 1826.8 412.0C1832.7 418.0 1838.6 424.2 1844.6 429.8C1850.5 435.4 1856.5 441.1 1862.5 445.3C1868.5 449.5 1874.0 452.4 1880.3 454.9C1886.5 457.4 1894.4 458.0 1900.0 460.5C1905.6 463.0 1908.2 465.4 1914.0 470.0C1919.8 474.6 1928.5 482.8 1934.5 488.0C1940.5 493.2 1945.5 497.5 1949.8 501.0C1954.0 504.5 1957.6 508.2 1960.0 509.0C1962.4 509.8 1962.8 507.5 1964.0 506.0C1965.2 504.5 1966.2 503.5 1967.4 500.0C1968.6 496.5 1970.0 490.0 1971.0 485.0C1972.0 480.0 1972.6 475.0 1973.4 470.0C1974.2 465.0 1974.8 460.0 1975.6 455.0C1976.3 450.0 1976.8 449.2 1977.9 440.0C1979.0 430.8 1980.7 411.3 1982.0 400.0C1983.3 388.7 1984.9 380.3 1986.0 372.0C1987.1 363.7 1987.8 357.0 1988.5 350.0C1989.2 343.0 1989.6 338.3 1990.0 330.0C1990.4 321.7 1990.8 319.2 1991.0 300.0C1991.2 280.8 1991.2 229.2 1991.2 215.0" stroke="#cf9a12"/>
<path d="M200.0 216.7C218.2 216.7 285.7 216.5 309.0 216.7C332.3 216.9 330.1 217.2 340.0 218.0C349.9 218.8 363.4 220.9 368.7 221.7C374.0 222.5 369.5 220.3 372.0 222.6C374.5 224.9 379.9 230.0 383.8 235.7C387.8 241.4 391.7 249.1 395.7 257.0C399.7 264.9 403.6 274.6 407.6 283.4C411.6 292.2 415.6 301.1 419.6 309.6C423.6 318.1 427.5 326.7 431.5 334.6C435.5 342.5 439.4 350.2 443.4 357.2C447.4 364.1 451.3 370.7 455.3 376.3C459.3 381.9 463.2 386.7 467.2 390.6C471.1 394.6 475.0 397.8 479.0 400.0C483.0 402.2 487.0 403.5 491.0 403.7C495.0 403.9 499.0 403.1 503.0 401.3C507.0 399.5 510.8 396.2 514.8 393.0C518.8 389.8 522.7 384.9 526.7 382.2C530.7 379.5 534.7 377.9 538.7 376.8C542.7 375.7 544.6 375.6 550.6 375.3C556.6 375.0 567.9 375.2 575.0 375.0C582.1 374.8 585.2 375.4 593.0 374.3C600.8 373.2 614.1 370.8 621.8 368.5C629.5 366.2 633.2 363.7 639.0 360.5C644.8 357.3 649.6 353.4 656.3 349.5C663.0 345.6 672.0 340.8 679.3 337.0C686.6 333.2 693.2 330.2 700.0 327.0C706.8 323.8 712.7 321.1 720.0 318.0C727.3 314.9 735.9 311.4 743.8 308.6C751.7 305.9 759.6 303.9 767.6 301.5C775.6 299.1 783.5 296.7 791.5 294.3C799.5 291.9 807.4 289.4 815.3 287.0C823.2 284.6 831.0 282.2 839.0 280.0C847.0 277.8 855.0 276.0 863.0 274.0C871.0 272.0 878.8 269.7 886.7 268.0C894.6 266.3 902.7 265.3 910.6 264.0C918.5 262.7 926.2 261.5 934.4 260.4C942.6 259.3 950.7 259.1 960.0 257.5C969.3 255.8 980.2 252.2 990.0 250.5C999.8 248.8 1011.8 247.7 1019.0 247.5C1026.2 247.3 1028.7 249.8 1033.5 249.5C1038.3 249.2 1036.0 248.2 1048.0 246.0C1060.0 243.8 1081.4 239.5 1105.4 236.4C1129.4 233.3 1170.2 230.3 1191.8 227.7C1213.4 225.0 1220.6 222.3 1235.0 220.5C1249.4 218.7 1263.7 217.1 1278.0 216.8C1292.3 216.5 1312.3 217.6 1321.0 218.5C1329.7 219.4 1327.6 220.5 1330.0 222.0C1332.4 223.5 1333.4 225.3 1335.3 227.6C1337.2 229.9 1338.4 232.8 1341.2 236.0C1344.0 239.2 1348.6 242.5 1352.0 246.7C1355.4 250.9 1358.7 256.2 1361.5 261.0C1364.3 265.8 1366.4 270.9 1368.6 275.3C1370.8 279.7 1372.6 284.2 1374.6 287.2C1376.6 290.1 1378.5 293.0 1380.5 293.0C1382.5 293.0 1384.5 290.5 1386.5 287.2C1388.5 283.9 1390.2 277.6 1392.4 273.0C1394.6 268.4 1396.8 263.8 1399.6 259.8C1402.4 255.8 1405.4 252.4 1409.0 249.0C1412.6 245.6 1417.0 242.2 1421.0 239.6C1425.0 237.0 1429.0 234.8 1433.0 233.6C1437.0 232.4 1440.9 232.0 1444.9 232.4C1448.9 232.8 1452.8 234.2 1456.8 236.0C1460.8 237.8 1464.7 240.8 1468.7 243.0C1472.7 245.2 1477.4 246.4 1480.6 249.0C1483.8 251.6 1485.3 255.4 1487.7 258.6C1490.1 261.8 1492.7 268.4 1494.9 268.0C1497.1 267.6 1499.0 260.9 1500.8 256.2C1502.6 251.5 1504.0 244.8 1505.6 239.6C1507.2 234.4 1508.5 228.9 1510.3 225.3C1512.1 221.7 1514.3 219.4 1516.3 218.0C1518.3 216.6 1519.7 215.8 1522.3 217.0C1524.9 218.2 1528.2 225.0 1531.7 225.0C1535.2 225.0 1537.0 217.8 1543.6 217.0C1550.2 216.2 1564.9 218.7 1571.5 220.5C1578.1 222.3 1579.4 225.2 1583.4 227.6C1587.4 230.0 1591.3 232.6 1595.3 234.8C1599.3 237.0 1603.2 238.7 1607.2 240.7C1611.2 242.7 1615.4 244.9 1619.0 246.7C1622.6 248.5 1625.4 252.1 1628.6 251.5C1631.8 250.9 1634.8 244.8 1638.2 243.0C1641.6 241.2 1645.1 240.4 1648.9 240.7C1652.7 241.0 1657.2 245.2 1660.8 245.0C1664.4 244.8 1666.9 242.1 1670.3 239.6C1673.7 237.1 1677.6 230.6 1681.0 230.0C1684.4 229.4 1687.0 233.2 1690.6 236.0C1694.2 238.8 1698.5 243.1 1702.5 246.7C1706.5 250.3 1710.4 253.2 1714.4 257.4C1718.4 261.6 1723.1 266.7 1726.3 271.7C1729.5 276.7 1731.6 282.9 1733.4 287.2C1735.2 291.5 1735.3 293.1 1737.4 297.6C1739.5 302.1 1743.0 308.7 1745.8 314.3C1748.6 319.9 1751.4 325.2 1754.0 331.0C1756.6 336.8 1759.0 342.6 1761.2 348.9C1763.4 355.2 1765.2 362.6 1767.2 369.0C1769.2 375.4 1771.2 381.0 1773.2 387.0C1775.2 393.0 1777.0 398.9 1779.0 404.8C1781.0 410.8 1783.0 416.7 1785.0 422.7C1787.0 428.7 1788.8 434.9 1791.0 440.6C1793.2 446.3 1795.1 451.3 1798.2 457.0C1801.3 462.7 1806.0 469.4 1809.5 475.0C1813.0 480.6 1814.4 483.0 1819.5 490.7C1824.6 498.4 1833.6 510.8 1840.0 521.0C1846.4 531.2 1852.7 542.6 1857.8 552.0C1862.9 561.4 1866.3 569.9 1870.6 577.6C1874.9 585.3 1878.7 592.5 1883.4 598.0C1888.1 603.5 1893.6 608.0 1898.7 610.8C1903.8 613.6 1908.9 614.2 1914.0 614.6C1919.1 615.0 1924.7 614.1 1929.4 613.0C1934.1 611.9 1937.3 608.6 1942.0 608.0C1946.7 607.4 1954.4 610.2 1957.5 609.5C1960.6 608.8 1959.6 606.1 1960.5 604.0C1961.4 601.9 1962.0 601.9 1963.0 597.0C1964.0 592.1 1965.5 580.9 1966.6 574.7C1967.7 568.5 1968.6 566.0 1969.6 559.8C1970.6 553.6 1971.7 544.8 1972.6 537.3C1973.5 529.8 1974.0 522.4 1974.9 514.9C1975.8 507.4 1976.9 499.9 1977.9 492.4C1978.9 484.9 1980.1 476.2 1980.9 470.0C1981.8 463.8 1982.4 460.0 1983.0 455.0C1983.6 450.0 1983.9 449.2 1984.6 440.0C1985.3 430.8 1986.2 418.3 1987.0 400.0C1987.8 381.7 1988.7 353.3 1989.3 330.0C1989.9 306.7 1990.3 279.9 1990.6 260.0C1990.9 240.1 1991.1 218.8 1991.2 210.5" stroke="#ee0d84"/>
<path d="M202 231V253" stroke="#f07878" stroke-width="4"/>
</g>
</g>
<rect x="1990" y="211" width="4" height="1254" fill="#000" fill-opacity="0.42" shape-rendering="crispEdges"/>
<g filter="url(#soft)">
<g fill="none" stroke="#000">
<line x1="493.7" y1="562.0" x2="493.7" y2="645.0" stroke-opacity="0.46" stroke-width="4"/>
<line x1="665.0" y1="266.6" x2="665.0" y2="345.7" stroke-opacity="0.47" stroke-width="3.8"/>
<line x1="1380.8" y1="187.6" x2="1380.8" y2="329.0" stroke-opacity="0.38" stroke-width="5"/>
<line x1="1494.3" y1="199.5" x2="1494.3" y2="269.0" stroke-opacity="0.25" stroke-width="7"/>
<line x1="1789.8" y1="195.5" x2="1789.8" y2="357.0" stroke-opacity="0.4" stroke-width="5.5"/>
<line x1="1374.3" y1="436.0" x2="1374.3" y2="521.0" stroke-opacity="0.23" stroke-width="7"/>
<line x1="1492.4" y1="474.0" x2="1492.4" y2="556.8" stroke-opacity="0.36" stroke-width="4.5"/>
<line x1="1574.2" y1="474.0" x2="1574.2" y2="622.3" stroke-opacity="0.3" stroke-width="7"/>
<line x1="1957.2" y1="1202.0" x2="1957.2" y2="1279.0" stroke-opacity="0.3" stroke-width="5.5"/>
</g>
<g font-size="67" text-anchor="middle">
<text x="200.0" y="1564" textLength="124.6" lengthAdjust="spacingAndGlyphs">4000</text>
<text x="448.9" y="1564" textLength="124.6" lengthAdjust="spacingAndGlyphs">3500</text>
<text x="697.7" y="1564" textLength="124.6" lengthAdjust="spacingAndGlyphs">3000</text>
<text x="946.6" y="1564" textLength="124.6" lengthAdjust="spacingAndGlyphs">2500</text>
<text x="1195.4" y="1564" textLength="124.6" lengthAdjust="spacingAndGlyphs">2000</text>
<text x="1444.3" y="1564" textLength="124.6" lengthAdjust="spacingAndGlyphs">1500</text>
<text x="1693.2" y="1564" textLength="124.6" lengthAdjust="spacingAndGlyphs">1000</text>
<text x="1942.0" y="1564" textLength="93.5" lengthAdjust="spacingAndGlyphs">500</text>
</g>
<text x="692" y="1694.5" font-size="103">Wavenumber(cm<tspan font-size="66" dy="-43">−1</tspan><tspan dy="43">)</tspan></text>
<text transform="translate(97 1118) rotate(-90)" font-size="103">Transmittance (a.u.)</text>
<g font-size="72" text-anchor="middle">
<text x="495.5" y="717.0" textLength="136.1" lengthAdjust="spacingAndGlyphs">3388</text>
<text x="677.0" y="256.5" textLength="135.4" lengthAdjust="spacingAndGlyphs">3067</text>
<text x="1356.0" y="172.0" textLength="133.9" lengthAdjust="spacingAndGlyphs">1628</text>
<text x="1504.0" y="189.5" textLength="135.4" lengthAdjust="spacingAndGlyphs">1400</text>
<text x="1798.5" y="184.5" textLength="102.1" lengthAdjust="spacingAndGlyphs">806</text>
<text x="1370.0" y="574.5" textLength="136.8" lengthAdjust="spacingAndGlyphs">1640</text>
<text x="1499.0" y="613.5" textLength="133.9" lengthAdjust="spacingAndGlyphs">1405</text>
<text x="1590.0" y="682.0" textLength="133.9" lengthAdjust="spacingAndGlyphs">1237</text>
</g>
<text x="1940" y="1329" font-size="52" text-anchor="middle" fill="#3a3a3a" textLength="84" lengthAdjust="spacingAndGlyphs">474</text>
<line x1="220" y1="803.4" x2="378" y2="803.4" stroke="#4f4f4f" stroke-width="6.6"/>
<text x="393" y="824.9" font-size="69.4">g-C<tspan dy="19" font-size="42">3</tspan><tspan dy="-19" font-size="69.4">N</tspan><tspan dy="19" font-size="42">4</tspan></text>
<line x1="220" y1="902.4" x2="378" y2="902.4" stroke="#ef3338" stroke-width="6.6"/>
<text x="393" y="923.9" font-size="69.4">TiO<tspan dy="19" font-size="42">2</tspan></text>
<line x1="220" y1="1001.3" x2="378" y2="1001.3" stroke="#ee0d84" stroke-width="6.6"/>
<text x="393" y="1022.8" font-size="69.4">un-10%-g-C<tspan dy="19" font-size="42">3</tspan><tspan dy="-19" font-size="69.4">N</tspan><tspan dy="19" font-size="42">4</tspan><tspan dy="-19" font-size="69.4">/TiO</tspan><tspan dy="19" font-size="42">2</tspan></text>
<line x1="220" y1="1100.2" x2="378" y2="1100.2" stroke="#1766e3" stroke-width="6.6"/>
<text x="393" y="1121.8" font-size="69.4">3%-g-C<tspan dy="19" font-size="42">3</tspan><tspan dy="-19" font-size="69.4">N</tspan><tspan dy="19" font-size="42">4</tspan><tspan dy="-19" font-size="69.4">/TiO</tspan><tspan dy="19" font-size="42">2</tspan></text>
<line x1="220" y1="1199.2" x2="378" y2="1199.2" stroke="#25a567" stroke-width="6.6"/>
<text x="393" y="1220.7" font-size="69.4">5%-g-C<tspan dy="19" font-size="42">3</tspan><tspan dy="-19" font-size="69.4">N</tspan><tspan dy="19" font-size="42">4</tspan><tspan dy="-19" font-size="69.4">/TiO</tspan><tspan dy="19" font-size="42">2</tspan></text>
<line x1="220" y1="1298.2" x2="378" y2="1298.2" stroke="#b572e8" stroke-width="6.6"/>
<text x="393" y="1319.7" font-size="69.4">7%-g-C<tspan dy="19" font-size="42">3</tspan><tspan dy="-19" font-size="69.4">N</tspan><tspan dy="19" font-size="42">4</tspan><tspan dy="-19" font-size="69.4">/TiO</tspan><tspan dy="19" font-size="42">2</tspan></text>
<line x1="220" y1="1397.1" x2="378" y2="1397.1" stroke="#cf9a12" stroke-width="6.6"/>
<text x="393" y="1418.6" font-size="69.4">10%-g-C<tspan dy="19" font-size="42">3</tspan><tspan dy="-19" font-size="69.4">N</tspan><tspan dy="19" font-size="42">4</tspan><tspan dy="-19" font-size="69.4">/TiO</tspan><tspan dy="19" font-size="42">2</tspan></text>
</g></svg></body></html>
